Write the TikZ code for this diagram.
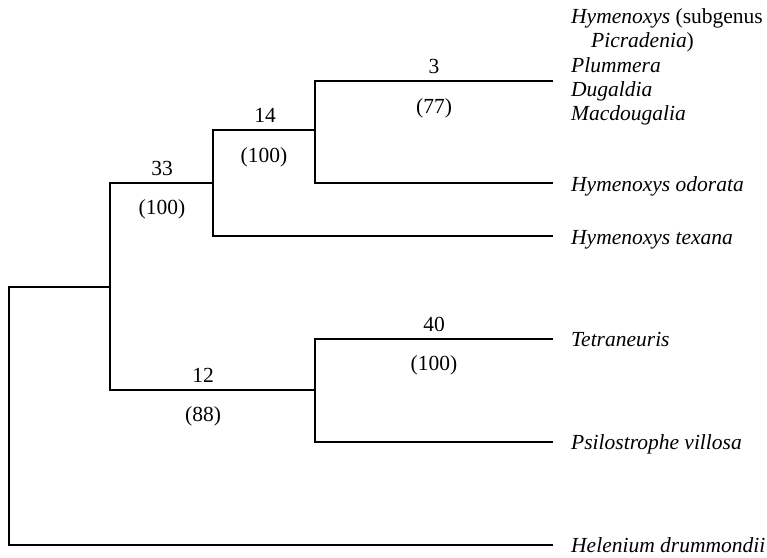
\documentclass[tikz,border=0pt]{standalone}
\usepackage{fontspec}
\setmainfont{Liberation Serif}
\begin{document}
\begin{tikzpicture}[x=1pt,y=-1pt,
  branch/.style={line width=1.8pt,line cap=rect},
  taxon/.style={anchor=base west,inner sep=0pt,font=\fontsize{21.5}{25}\selectfont\itshape},
  blabel/.style={anchor=base,inner sep=0pt,font=\fontsize{21.5}{25}\selectfont}]
\useasboundingbox (0,0) rectangle (767,557);
% internal nodes
\coordinate (R) at (9,287);
\coordinate (A) at (110,287);
\coordinate (B) at (213,183);
\coordinate (C) at (315,130);
\coordinate (D) at (315,390);
% tips
\coordinate (e1) at (552,81);
\coordinate (e2) at (552,183);
\coordinate (e3) at (552,236);
\coordinate (e4) at (552,339);
\coordinate (e5) at (552,442);
\coordinate (e6) at (552,545);
% branches
\draw[branch] (e1) -| (C) |- (e2);
\draw[branch] (C) -| (B) |- (e3);
\draw[branch] (B) -| (A) |- (D);
\draw[branch] (e4) -| (D) |- (e5);
\draw[branch] (A) -- (R) |- (e6);
% branch labels
\node[blabel] (l3) at (434,73) {3};
\node[blabel] (l77) at (434,113) {(77)};
\node[blabel] (l14) at (265,122) {14};
\node[blabel] (l100a) at (264,162) {(100)};
\node[blabel] (l33) at (162,175) {33};
\node[blabel] (l100b) at (162,214) {(100)};
\node[blabel] (l40) at (434,331) {40};
\node[blabel] (l100c) at (434,370) {(100)};
\node[blabel] (l12) at (203,382) {12};
\node[blabel] (l88) at (203,421) {(88)};
% taxa
\node[taxon] (t1) at (571,23) {Hymenoxys \upshape(subgenus};
\node[taxon] (t1b) at (591,47) {Picradenia\upshape)};
\node[taxon] (t2) at (571,72) {Plummera};
\node[taxon] (t3) at (571,96) {Dugaldia};
\node[taxon] (t4) at (571,120) {Macdougalia};
\node[taxon] (t5) at (571,191) {Hymenoxys odorata};
\node[taxon] (t6) at (571,244) {Hymenoxys texana};
\node[taxon] (t7) at (571,346) {Tetraneuris};
\node[taxon] (t8) at (571,449) {Psilostrophe villosa};
\node[taxon] (t9) at (571,552) {Helenium drummondii};
\end{tikzpicture}
\end{document}
